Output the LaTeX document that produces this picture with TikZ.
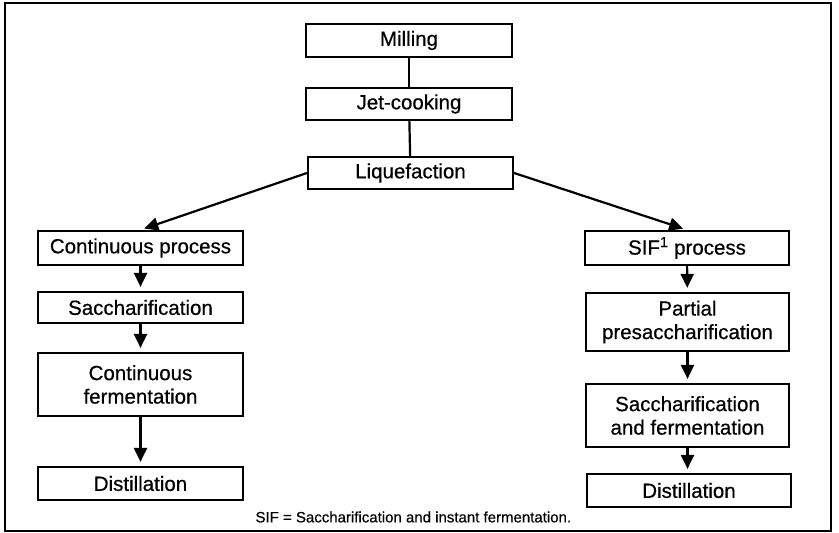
\documentclass[tikz,border=0pt]{standalone}
\usepackage{fontspec}
\setmainfont{Liberation Sans}
\newfontfamily\scanfont[FakeBold=0.5]{Liberation Sans}
\usetikzlibrary{arrows.meta}
\begin{document}
\begin{tikzpicture}[x=1pt, y=-1pt,
    box/.style={draw, line width=2.2pt, inner sep=0pt, align=center, font=\scanfont\fontsize{20.5}{23.5}\selectfont},
    flow/.style={line width=2.2pt, -{Triangle[width=13pt,length=14pt]}, shorten >=4pt}]
    \useasboundingbox (0,0) rectangle (839,533);
    \draw[line width=2.2pt] (5,3) rectangle (831,531);
    \node[box, minimum width=206pt, minimum height=33pt] (milling) at (409,40.5) {Milling};
    \node[box, minimum width=206pt, minimum height=32pt] (jet) at (409,104) {Jet-cooking};
    \node[box, minimum width=205pt, minimum height=32pt] (liq) at (410.5,173) {Liquefaction};
    \node[box, minimum width=205pt, minimum height=34pt] (cont) at (140.5,248) {Continuous process};
    \node[box, minimum width=205pt, minimum height=31pt] (sacc) at (140.5,307.5) {Saccharification};
    \node[box, minimum width=205pt, minimum height=63pt] (ferm) at (140.5,384.5) {Continuous\\fermentation};
    \node[box, minimum width=205pt, minimum height=33pt] (distl) at (140.5,483.5) {Distillation};
    \node[box, minimum width=204pt, minimum height=34pt] (sif) at (687,248) {SIF\textsuperscript{1} process};
    \node[box, minimum width=203pt, minimum height=58pt] (partial) at (687.5,322) {Partial\\presaccharification};
    \node[box, minimum width=203pt, minimum height=63pt] (saccferm) at (687.5,415.5) {Saccharification\\and fermentation};
    \node[box, minimum width=204pt, minimum height=33pt] (distr) at (689,490.5) {Distillation};
    \node[anchor=west, font=\scanfont\fontsize{15}{18}\selectfont] (note) at (252,517) {SIF = Saccharification and instant fermentation.};
    \draw[line width=2.2pt] (milling) -- (jet);
    \draw[line width=2.2pt] (jet) -- (liq);
    \draw[flow] (liq.west) -- (cont.north);
    \draw[flow] (liq.east) -- (sif.north);
    \draw[flow] (cont) -- (sacc);
    \draw[flow] (sacc) -- (ferm);
    \draw[flow] (ferm) -- (distl);
    \draw[flow] (sif) -- (partial);
    \draw[flow] (partial) -- (saccferm);
    \draw[flow] (saccferm.south) -- (distr.north -| saccferm.south);
\end{tikzpicture}
\end{document}
